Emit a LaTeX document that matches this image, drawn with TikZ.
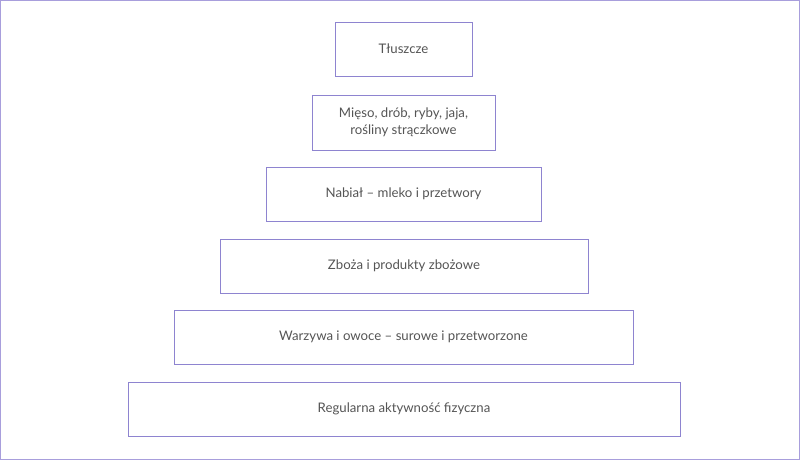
\documentclass[tikz,border=0pt]{standalone}
\usepackage{fontspec}
\setmainfont{Lato}
\begin{document}
\begin{tikzpicture}[x=1pt,y=-1pt,
  box/.style={draw=boxc,line width=0.9pt,inner sep=0pt,align=center,text=txtc,font=\fontsize{13.2}{17}\selectfont}]
\definecolor{boxc}{HTML}{8E84D0}
\definecolor{txtc}{HTML}{555555}
\definecolor{framec}{HTML}{A89EDC}
\draw[framec,line width=1pt,fill=white] (0.5,0.5) rectangle (799.5,459.5);
\useasboundingbox (0,0) rectangle (800,460);
\node[box,minimum width=137pt,minimum height=54pt] (t) at (403.5,49) {Tłuszcze};
\node[box,minimum width=183pt,minimum height=55pt] (m) at (403.5,122.5) {Mięso, drób, ryby, jaja,\\rośliny strączkowe};
\node[box,minimum width=275pt,minimum height=54pt] (n) at (403.5,194) {Nabiał – mleko i przetwory};
\node[box,minimum width=368pt,minimum height=54pt] (z) at (404,266) {Zboża i produkty zbożowe};
\node[box,minimum width=459pt,minimum height=54pt] (w) at (403.5,337) {Warzywa i owoce – surowe i przetworzone};
\node[box,minimum width=552pt,minimum height=54pt] (r) at (404,409) {Regularna aktywność fizyczna};
\end{tikzpicture}
\end{document}
